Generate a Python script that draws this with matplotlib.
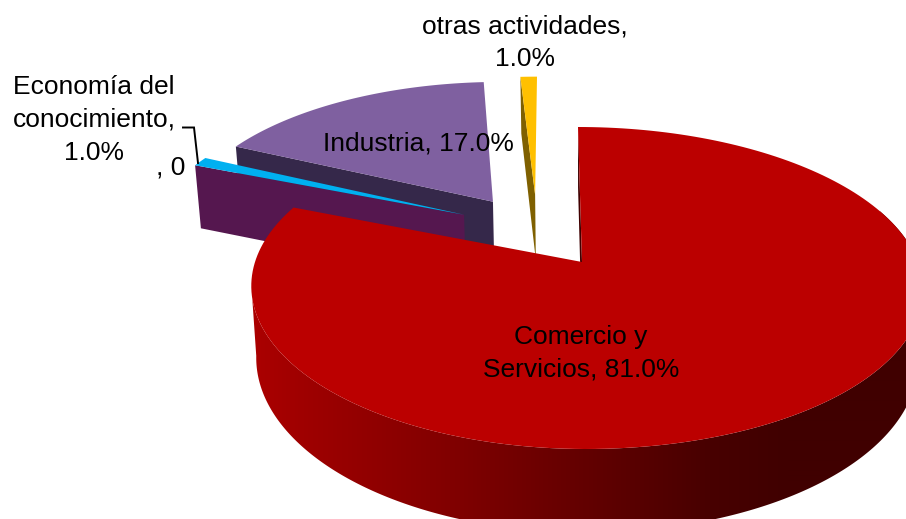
import numpy as np
import matplotlib
matplotlib.use("Agg")
import matplotlib.pyplot as plt
from matplotlib.patches import Polygon
from matplotlib.colors import LinearSegmentedColormap

categories = ["Comercio y Servicios", "Economía del conocimiento", "Industria", "otras actividades", ""]
values = [81.0, 1.0, 17.0, 1.0, 0.0]

top_colors = ["#bb0000", "#00b0f0", "#7f60a0", "#ffc000"]
side_colors = ["#400000", "#55174f", "#35284a", "#7f6000"]
# slice offsets from the red apex, in pie-disc units
offsets = [(0.0, 0.0), (-0.375, 0.317), (-0.285, 0.41), (-0.148, 0.461)]

X0, Y0, A, B_LEFT, B_RIGHT, K, SHEAR = 582.0, 262.0, 156.8, 327.0, 336.0, 0.1615, -4.0
DEPTH, SHRINK = 70.0, 0.985


def project(x, y):
    w = 1 + K * y
    return X0 + np.where(x < 0, B_LEFT, B_RIGHT) * x / w + SHEAR * y, Y0 - A * y / w


def extrude(sx, sy, y):
    w = 1 + K * y
    return X0 + (sx - X0) * SHRINK, sy + DEPTH / w


def arc(t0, t1, off, n=200):
    t = np.radians(np.linspace(t0, t1, n))
    return off[0] + np.sin(t), off[1] + np.cos(t)


fig = plt.figure(figsize=(9.06, 5.19), dpi=100)
ax = fig.add_axes([0, 0, 1, 1])
ax.set_xlim(0, 906)
ax.set_ylim(519, 0)
ax.axis("off")

shade = LinearSegmentedColormap.from_list(
    "shade", [(0, "#ab0000"), (0.07, "#a00000"), (0.31, "#800000"), (0.50, "#640000"),
              (0.70, "#480000"), (0.82, "#400000"), (1, "#400000")], N=1024)

starts = np.cumsum([0] + values[:-1]) * 3.6
z = 1
for i in [3, 2, 1, 0]:
    t0, t1 = starts[i], starts[i] + values[i] * 3.6
    off = offsets[i]
    ox, oy = arc(t0, t1, off)
    sx, sy = project(ox, oy)
    ax_, ay_ = project(np.float64(off[0]), np.float64(off[1]))
    bx, by = extrude(sx, sy, oy)
    abx, aby = extrude(ax_, ay_, off[1])
    # flat wall along the slice's first radial edge
    ax.add_patch(Polygon([(sx[0], sy[0]), (ax_, ay_), (abx, aby), (bx[0], by[0])],
                         fc=side_colors[i], ec="none", zorder=z))
    if i == 0:
        # curved outer wall: a left-to-right gradient clipped to the wall outline
        wx, wy = arc(70, 262, off, 300)
        px, py = project(wx, wy)
        qx, qy = extrude(px, py, wy)
        outline = Polygon(np.r_[np.c_[px, py], np.c_[qx, qy][::-1]], fc="none", ec="none",
                          transform=ax.transData)
        ax.add_patch(outline)
        ramp = np.linspace(0, 1, 654)[None, :]
        im = ax.imshow(ramp, cmap=shade, vmin=0, vmax=1, extent=(252, 906, 519, 200),
                       aspect="auto", zorder=z, interpolation="bilinear")
        im.set_clip_path(outline)
    ax.add_patch(Polygon(np.r_[[(ax_, ay_)], np.c_[sx, sy]], fc=top_colors[i], ec="none", zorder=z + 0.5))
    z += 1

ax.set_xlim(0, 906)
ax.set_ylim(519, 0)

font = dict(family="Liberation Sans", fontsize=19, color="black", ha="center", va="center",
            linespacing=1.45, zorder=20)
ax.text(581, 353, "Comercio y\nServicios, 81.0%", **font)
ax.text(418.5, 143, "Industria, 17.0%", **font)
ax.text(525, 42.5, "otras actividades,\n1.0%", **font)
ax.text(94, 120, "Economía del\nconocimiento,\n1.0%", **font)
ax.text(171, 168, ", 0", **font)
ax.plot([183, 194, 198], [127.5, 127.5, 163], color="black", lw=1.4, zorder=19, solid_joinstyle="miter")

fig.savefig("out.png", dpi=100)
